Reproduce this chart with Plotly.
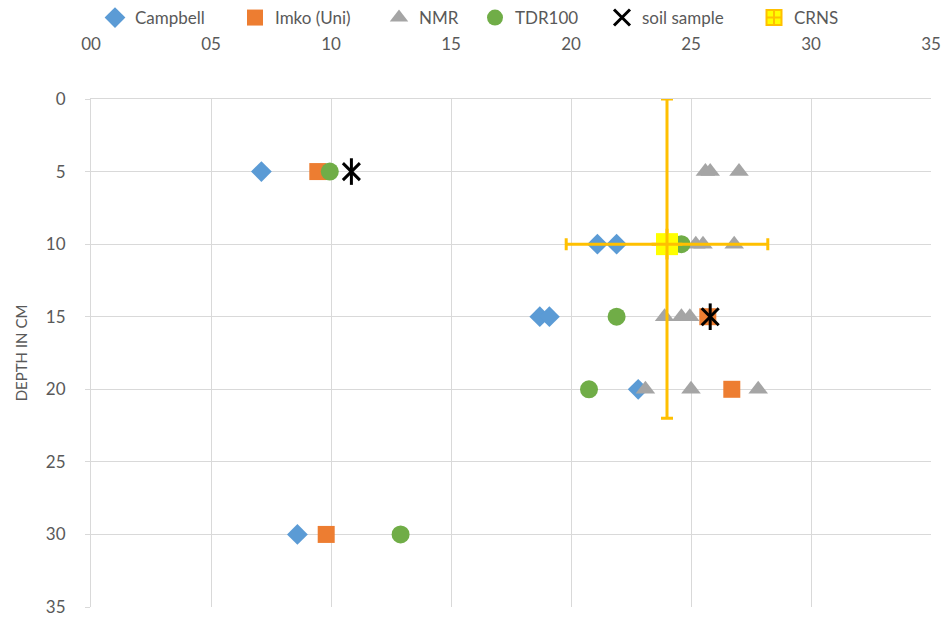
import plotly.graph_objects as go

# Data (x = moisture value, y = depth in cm)
campbell_x = [7.1, 21.1, 21.9, 18.7, 19.1, 22.8, 8.6]
campbell_y = [5, 10, 10, 15, 15, 20, 30]
imko_x = [9.45, 25.7, 26.7, 9.8]
imko_y = [5, 15, 20, 30]
nmr_x = [25.6, 25.8, 27.0, 25.2, 25.5, 26.8, 23.9, 24.6, 24.95, 23.1, 25.0, 27.8]
nmr_y = [5, 5, 5, 10, 10, 10, 15, 15, 15, 20, 20, 20]
tdr_x = [9.95, 24.6, 21.9, 20.75, 12.9]
tdr_y = [5, 10, 15, 20, 30]
soil_x = [10.85, 25.8]
soil_y = [5, 15]
crns_x = [24.0]
crns_y = [10]
crns_xerr = [4.2]
crns_yerr_minus = [10]
crns_yerr_plus = [12]

tick_vals = [0, 5, 10, 15, 20, 25, 30, 35]
x_tick_text = ["00", "05", "10", "15", "20", "25", "30", "35"]
y_tick_text = ["0", "5", "10", "15", "20", "25", "30", "35"]

FONT = "Lato, Calibri, sans-serif"
GRID = "#d9d9d9"
TXT = "#595959"

fig = go.Figure()
fig.add_trace(go.Scatter(x=campbell_x, y=campbell_y, mode="markers", name="Campbell", legend="legend",
                         marker=dict(symbol="diamond", size=16, color="#5b9bd5")))
fig.add_trace(go.Scatter(x=imko_x, y=imko_y, mode="markers", name="Imko (Uni)", legend="legend2",
                         marker=dict(symbol="square", size=17, color="#ed7d31")))
fig.add_trace(go.Scatter(x=nmr_x, y=nmr_y, mode="markers", name="NMR", legend="legend3",
                         marker=dict(symbol="triangle-up", size=17, color="#a5a5a5")))
fig.add_trace(go.Scatter(x=tdr_x, y=tdr_y, mode="markers", name="TDR100", legend="legend4",
                         marker=dict(symbol="circle", size=18, color="#70ad47")))
fig.add_trace(go.Scatter(x=soil_x, y=soil_y, mode="markers", name="soil sample", legend="legend5",
                         marker=dict(symbol="x-thin-open", size=17, color="black",
                                     line=dict(width=3, color="black"))))
fig.add_trace(go.Scatter(x=soil_x, y=soil_y, mode="markers", showlegend=False, hoverinfo="skip",
                         marker=dict(symbol="line-ns-open", size=19, color="black",
                                     line=dict(width=3, color="black"))))
fig.add_trace(go.Scatter(x=crns_x, y=crns_y, mode="markers", name="CRNS", showlegend=False,
                         marker=dict(symbol="square", size=22, color="#ffff00"),
                         error_x=dict(type="data", array=crns_xerr, color="#ffc000",
                                      thickness=3, width=6),
                         error_y=dict(type="data", symmetric=False, array=crns_yerr_plus,
                                      arrayminus=crns_yerr_minus, color="#ffc000",
                                      thickness=3, width=6)))
fig.add_trace(go.Scatter(x=crns_x, y=crns_y, mode="markers", showlegend=False, hoverinfo="skip",
                         marker=dict(symbol="cross-thin-open", size=22, color="#ffc000",
                                     line=dict(width=3, color="#ffc000"))))
fig.add_trace(go.Scatter(x=[None], y=[None], mode="markers", name="CRNS", legend="legend6",
                         marker=dict(symbol="square-cross", size=15, color="#ffff00",
                                     line=dict(width=2, color="#ffc000"))))

legend_centers = [120, 260, 404, 500, 627, 779]
legend_names = ["legend", "legend2", "legend3", "legend4", "legend5", "legend6"]
leg_layout = {}
for nm, cx in zip(legend_names, legend_centers):
    leg_layout[nm] = dict(orientation="h", x=(cx - 25) / 945, xanchor="left", xref="container",
                          y=1, yanchor="top", yref="container", bgcolor="rgba(0,0,0,0)",
                          font=dict(size=17, color=TXT, family=FONT), itemwidth=30)

fig.update_layout(
    width=945, height=620,
    margin=dict(l=91, r=14, t=99, b=13, autoexpand=False),
    paper_bgcolor="white", plot_bgcolor="white",
    font=dict(family=FONT, size=16, color=TXT),
    showlegend=True,
    **leg_layout,
)
fig.update_xaxes(range=[0, 35], side="top", tickvals=tick_vals, ticktext=x_tick_text,
                 showgrid=True, gridcolor=GRID, gridwidth=1, showline=True, linecolor=GRID,
                 zeroline=False, ticks="outside", ticklen=0, ticklabelstandoff=41,
                 tickfont=dict(size=17, color=TXT), automargin=False)
fig.update_yaxes(range=[35, 0], tickvals=tick_vals, ticktext=y_tick_text,
                 showgrid=True, gridcolor=GRID, gridwidth=1, showline=True, linecolor=GRID,
                 zeroline=False, ticks="outside", ticklen=5, tickcolor=GRID,
                 ticklabelstandoff=16, tickfont=dict(size=17, color=TXT), automargin=False,
                 title=dict(text="DEPTH IN CM", font=dict(size=15, color=TXT), standoff=14))

fig.write_html("out.html", config={"displayModeBar": False},
               post_script="document.body.style.margin='0';")
